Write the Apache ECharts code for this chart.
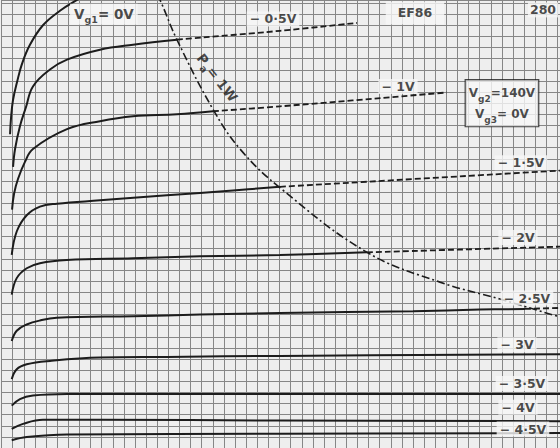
<!DOCTYPE html>
<html>
<head>
<meta charset="utf-8">
<script src="https://cdn.jsdelivr.net/npm/echarts@6/dist/echarts.min.js"></script>
<style>
html,body{margin:0;padding:0;background:#eeeeee;}
#c{width:560px;height:448px;}
</style>
</head>
<body>
<div id="c"></div>
<script>
// Axis units are chart grid divisions (x: anode voltage divisions, y: anode current divisions)
const xTicks = { min: 0, max: 50.22, interval: 1 };
const yTicks = { min: 0, max: 40.27, interval: 1 };

// Anode characteristics, one array per control-grid voltage: [x, y]
const vg0 = [[0.76,28.2],[0.85,29.7],[1.03,31.3],[1.39,32.9],[1.84,34.55],[2.55,36.25],[3.72,38.0],[5.25,39.3],[6.78,40.27],[8.4,41.2]];
const vg05 = [[1.03,25.27],[1.21,26.88],[1.65,28.93],[2.19,30.63],[2.82,32.5],[4.35,34.02],[5.88,34.91],[8.85,35.8],[11.82,36.25],[15.77,36.7]];
const vg05dash = [[15.77,36.7],[25.04,37.5],[31.96,38.21]];
const vg1 = [[0.94,21.43],[1.12,22.86],[1.48,24.2],[2.1,25.72],[2.82,26.88],[5.88,28.66],[8.85,29.38],[11.82,29.82],[15.77,30.0],[19.01,30.27]];
const vg1dash = [[19.01,30.27],[25.04,30.71],[40.05,31.96]];
const vg15 = [[0.91,17.35],[1.36,19.46],[2.26,20.92],[3.45,21.7],[4.98,21.96],[8.85,22.26],[14.87,22.71],[20.81,23.15],[25.04,23.48]];
const vg15dash = [[25.04,23.48],[50.22,24.94]];
const vg2 = [[0.91,13.78],[1.36,15.27],[2.26,16.16],[3.45,16.61],[5.85,16.9],[11.82,17.05],[17.84,17.23],[25.04,17.35],[32.86,17.59]];
const vg2dash = [[32.86,17.59],[50.22,18.1]];
const vg25 = [[0.91,9.62],[1.36,10.54],[2.26,11.1],[3.45,11.46],[4.95,11.7],[11.82,11.85],[17.84,11.99],[25.04,12.14],[37.0,12.3],[43.02,12.44],[47.07,12.5]];
const vg25dash = [[47.07,12.5],[50.22,12.59]];
const vg3 = [[0.91,6.19],[1.36,7.08],[2.26,7.53],[4.35,7.83],[8.85,8.13],[14.87,8.19],[25.04,8.28],[50.22,8.42]];
const vg35 = [[0.91,3.81],[1.65,4.4],[2.82,4.71],[5.88,4.85],[25.04,4.85],[50.22,4.85]];
const vg4 = [[0.91,1.72],[1.92,2.17],[3.72,2.53],[8.85,2.53],[25.04,2.47],[50.22,2.41]];
const vg45 = [[0.91,0.69],[2.26,0.98],[5.88,1.22],[25.04,1.28],[50.22,1.34]];
// Anode dissipation limit Pa = 1 W
const pa1w = [[13.35,42.05],[14.25,40.27],[15.77,36.7],[19.01,30.45],[21.44,26.88],[25.04,23.39],[32.86,17.59],[39.42,14.91],[44.82,13.39],[49.86,11.88],[50.22,11.8]];

// Curve labels and anchors (data coordinates)
const curveLabels = ['− 0·5V','− 1V','− 1·5V','− 2V','− 2·5V','− 3V','− 3·5V','− 4V','− 4·5V'];
const curveLabelAt = [[24.41,38.57],[35.65,32.5],[46.71,25.63],[46.44,18.93],[47.25,13.48],[46.35,9.29],[46.8,5.8],[46.44,3.66],[46.89,1.7]];

const ink = '#1c1c1c';
const FONT = 'DejaVu Sans';

function solid(d){ return {type:'line', data:d, symbol:'none', smooth:0.4, lineStyle:{color:ink,width:2}, z:3}; }
function dashed(d){ return {type:'line', data:d, symbol:'none', smooth:0.3, lineStyle:{color:ink,width:1.8,type:[6,3]}, z:3}; }

const labelBase = {show:true, position:'inside', color:ink, fontFamily:FONT, fontSize:12.5, fontWeight:'bold', backgroundColor:'#f6f6f6', padding:[1,3]};

const labelItems = curveLabels.map((t,i)=>({value:curveLabelAt[i], label:Object.assign({}, labelBase, {formatter:t})}));
const rich = {
  v:{fontFamily:FONT, fontSize:13.5, fontWeight:'bold', color:ink, lineHeight:21},
  s:{fontFamily:FONT, fontSize:9.5, fontWeight:'bold', color:ink, lineHeight:10, verticalAlign:'bottom'}
};
const richBox = {
  v:{fontFamily:FONT, fontSize:12, fontWeight:'bold', color:ink, lineHeight:21},
  s:{fontFamily:FONT, fontSize:9, fontWeight:'bold', color:ink, lineHeight:10, verticalAlign:'bottom'}
};
labelItems.push({value:[9.2,39.0], label:Object.assign({}, labelBase, {formatter:'{v|V}{s|g1}{v|= 0V}', rich:rich, padding:[0,4]})});
labelItems.push({value:[37.18,39.11], label:Object.assign({}, labelBase, {formatter:'EF86', padding:[5,12]})});
labelItems.push({value:[48.69,39.38], label:Object.assign({}, labelBase, {formatter:'280', padding:[1,2]})});
labelItems.push({value:[45.0,31.0], label:Object.assign({}, labelBase, {formatter:'{v|V}{s|g2}{v|=140V}\n{v|V}{s|g3}{v|= 0V}', rich:richBox, borderColor:ink, borderWidth:1.2, backgroundColor:'#f8f8f8', padding:[2,3]})});
labelItems.push({value:[19.4,33.3], label:Object.assign({}, labelBase, {formatter:'{v|P}{s|a}{v|= 1W}', rich:rich, rotate:-52, backgroundColor:'transparent', padding:0})});

const chart = echarts.init(document.getElementById('c'), null, {renderer:'svg'});
chart.setOption({
  animation:false,
  backgroundColor:'#eeeeee',
  grid:{left:1.6, top:0, width:558.4, height:451},
  xAxis:{type:'value', min:xTicks.min, max:xTicks.max, interval:xTicks.interval,
    axisLine:{show:false}, axisTick:{show:false}, axisLabel:{show:false},
    splitLine:{show:true, lineStyle:{color:'#868686', width:1}}},
  yAxis:{type:'value', min:yTicks.min, max:yTicks.max, interval:yTicks.interval,
    axisLine:{show:false}, axisTick:{show:false}, axisLabel:{show:false},
    splitLine:{show:true, lineStyle:{color:'#868686', width:1}}},
  series:[
    solid(vg0), solid(vg05), dashed(vg05dash), solid(vg1), dashed(vg1dash),
    solid(vg15), dashed(vg15dash), solid(vg2), dashed(vg2dash),
    solid(vg25), dashed(vg25dash), solid(vg3), solid(vg35), solid(vg4), solid(vg45),
    {type:'line', data:pa1w, symbol:'none', smooth:0.4, lineStyle:{color:ink,width:1.6,type:[8,3,2,3]}, z:4},
    {type:'scatter', data:labelItems, symbolSize:0, z:5, silent:true}
  ]
});
</script>
</body>
</html>
